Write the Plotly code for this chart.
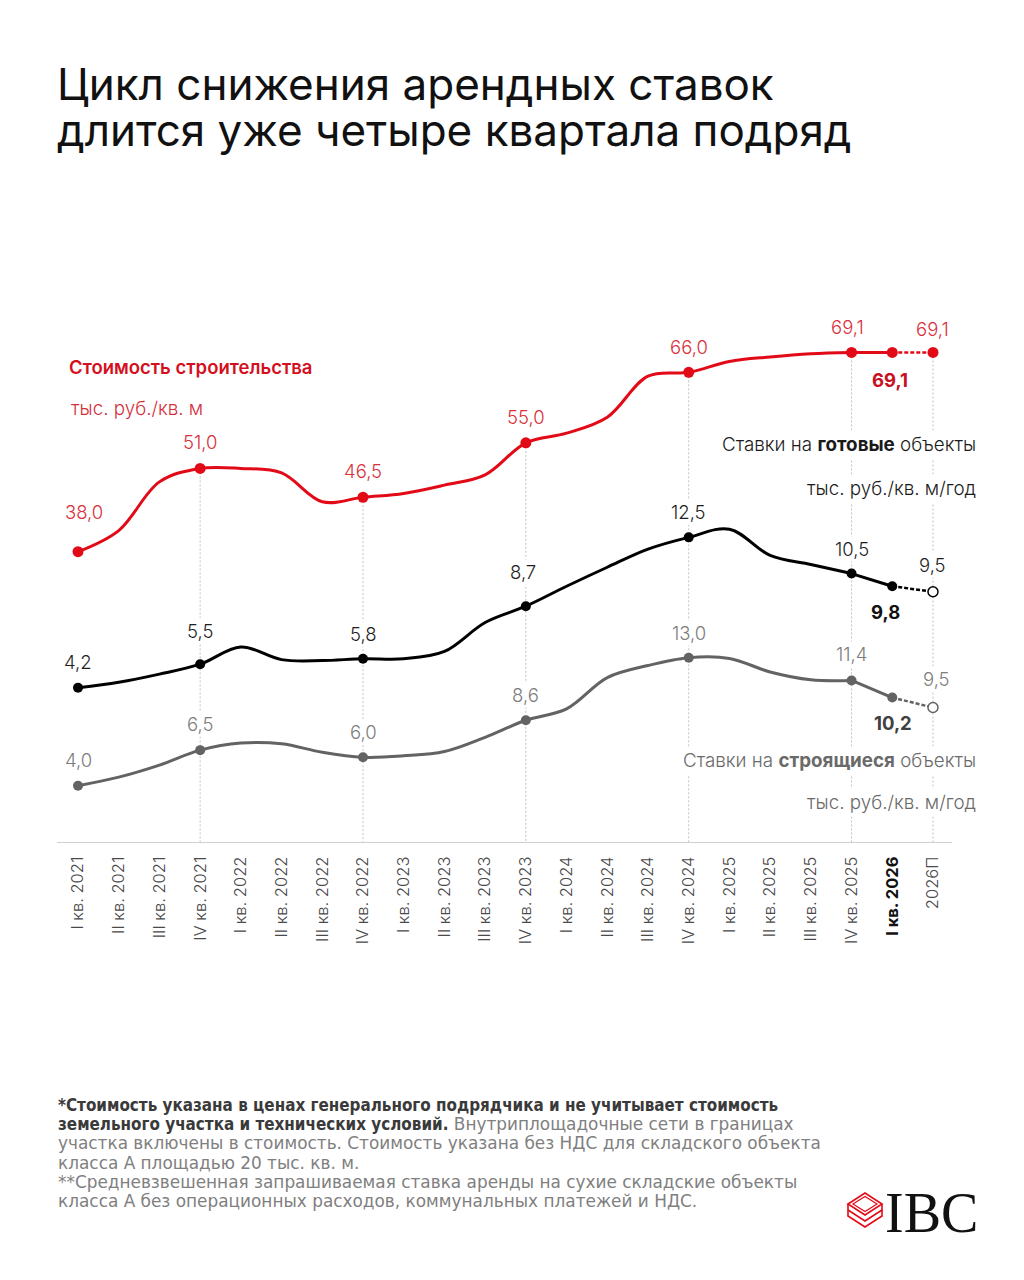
import plotly.graph_objects as go

# ---------------- data ----------------
quarters = ["I кв. 2021", "II кв. 2021", "III кв. 2021", "IV кв. 2021",
            "I кв. 2022", "II кв. 2022", "III кв. 2022", "IV кв. 2022",
            "I кв. 2023", "II кв. 2023", "III кв. 2023", "IV кв. 2023",
            "I кв. 2024", "II кв. 2024", "III кв. 2024", "IV кв. 2024",
            "I кв. 2025", "II кв. 2025", "III кв. 2025", "IV кв. 2025",
            "I кв. 2026", "2026П"]
construction = [38.0, 41.3, 48.9, 51.0, 51.0, 50.3, 45.8, 46.5, 47.1, 48.4, 50.0, 55.0,
                56.5, 59.0, 65.4, 66.0, 67.7, 68.4, 68.9, 69.1, 69.1, 69.1]
ready = [4.2, 4.5, 4.95, 5.5, 6.45, 5.75, 5.7, 5.8, 5.8, 6.2, 7.8, 8.7,
         9.8, 10.85, 11.85, 12.5, 12.95, 11.5, 11.0, 10.5, 9.8, 9.5]
under_constr = [4.0, 4.6, 5.45, 6.5, 7.0, 6.95, 6.35, 6.0, 6.1, 6.4, 7.4, 8.6,
                9.4, 11.6, 12.45, 13.0, 12.95, 12.0, 11.45, 11.4, 10.2, 9.5]
marker_idx = [0, 3, 7, 11, 15, 19, 20]
label_idx = [0, 3, 7, 11, 15, 19, 21]
current_idx = 20
forecast_idx = 21
gridline_idx = [3, 7, 11, 15, 19, 21]

title_lines = ["Цикл снижения арендных ставок", "длится уже четыре квартала подряд"]
footnote_bold = [
    "*Стоимость указана в ценах генерального подрядчика и не учитывает стоимость",
    "земельного участка и технических условий.",
    "", "", "", "",
]
footnote_rest = [
    "",
    " Внутриплощадочные сети в границах",
    "участка включены в стоимость. Стоимость указана без НДС для складского объекта",
    "класса А площадью 20 тыс. кв. м.",
    "**Средневзвешенная запрашиваемая ставка аренды на сухие складские объекты",
    "класса А без операционных расходов, коммунальных платежей и НДС.",
]

# ---------------- style ----------------
W, H = 1024, 1280
FONT = "Inter"
RED = "#e20a17"
BLACK = "#000000"
GRAY = "#636363"


def px(x):
    return x / W


def py(y):
    return 1 - y / H


def fmt(v):
    return f"{v:.1f}".replace(".", ",")


x = list(range(len(quarters)))
red_range = [-7.31, 77.29]

fig = go.Figure()

series = [
    dict(vals=construction, yaxis="y", ref="y", color=RED, lab="#d9303b", bold="#c8101f",
         open_end=False, msize=11,
         offs={0: (6, 40), 3: (0, 26), 7: (0, 26), 11: (0, 26), 15: (0, 25), 19: (-4, 25), 21: (0, 23)},
         cur=(-2, -28)),
    dict(vals=ready, yaxis="y2", ref="y2", color=BLACK, lab="#1e1e1e", bold="#111111",
         open_end=True, msize=10,
         offs={0: (0, 26), 3: (0, 33), 7: (0, 25), 11: (-3, 34), 15: (0, 25), 19: (0, 25), 21: (0, 27)},
         cur=(-7, -26)),
    dict(vals=under_constr, yaxis="y3", ref="y3", color=GRAY, lab="#7d7d7d", bold="#404040",
         open_end=True, msize=10,
         offs={0: (0, 26), 3: (0, 26), 7: (0, 25), 11: (0, 25), 15: (0, 25), 19: (0, 26), 21: (4, 29)},
         cur=(1, -25)),
]

annotations = []
for s in series:
    v = s["vals"]
    c = s["color"]
    fig.add_trace(go.Scatter(x=x[:20], y=v[:20], mode="lines", yaxis=s["yaxis"],
                             line=dict(color=c, width=3, shape="spline", smoothing=1.0),
                             hoverinfo="skip", showlegend=False))
    fig.add_trace(go.Scatter(x=x[19:21], y=v[19:21], mode="lines", yaxis=s["yaxis"],
                             line=dict(color=c, width=3), hoverinfo="skip", showlegend=False))
    fig.add_trace(go.Scatter(x=x[20:22], y=v[20:22], mode="lines", yaxis=s["yaxis"],
                             line=dict(color=c, width=2.5, dash="4px,2px"),
                             hoverinfo="skip", showlegend=False))
    fig.add_trace(go.Scatter(x=[x[i] for i in marker_idx], y=[v[i] for i in marker_idx],
                             mode="markers", yaxis=s["yaxis"],
                             marker=dict(color=c, size=s["msize"], line=dict(width=0)),
                             hoverinfo="skip", showlegend=False))
    if s["open_end"]:
        end_marker = dict(color="white", size=10, line=dict(color=c, width=1.5))
    else:
        end_marker = dict(color=c, size=s["msize"], line=dict(width=0))
    fig.add_trace(go.Scatter(x=[x[forecast_idx]], y=[v[forecast_idx]], mode="markers",
                             yaxis=s["yaxis"], marker=end_marker,
                             hoverinfo="skip", showlegend=False))
    for i in label_idx:
        dx, dy = s["offs"][i]
        annotations.append(dict(x=x[i], y=v[i], xref="x", yref=s["ref"], text=fmt(v[i]),
                                showarrow=False, xshift=dx, yshift=dy, bgcolor="white",
                                borderpad=1,
                                font=dict(family=FONT, size=18.5, color=s["lab"], weight=300)))
    dx, dy = s["cur"]
    annotations.append(dict(x=x[current_idx], y=v[current_idx], xref="x", yref=s["ref"],
                            text="<b>" + fmt(v[current_idx]) + "</b>", showarrow=False,
                            xshift=dx, yshift=dy, bgcolor="white", borderpad=1,
                            font=dict(family=FONT, size=18.5, color=s["bold"])))

# vertical dotted guides
shapes = []
for i in gridline_idx:
    shapes.append(dict(type="line", xref="x", yref="y", x0=x[i], x1=x[i],
                       y0=construction[i], y1=red_range[0], layer="below",
                       line=dict(color="#c2c2c2", width=1, dash="2px,2px")))


def txt(xp, yp, text, size, color, anchor="left", weight=None):
    f = dict(family=FONT, size=size, color=color)
    if weight is not None:
        f["weight"] = weight
    annotations.append(dict(x=px(xp), y=py(yp), xref="paper", yref="paper", text=text,
                            showarrow=False, xanchor=anchor, yanchor="middle",
                            bgcolor="white", borderpad=2, font=f))


txt(66, 367, "Стоимость строительства", 18.5, "#d4101e", weight=600)
txt(68, 408, "тыс. руб./кв. м", 18.8, "#d4303b", weight=300)
txt(979, 444, "Ставки на <b>готовые</b> объекты", 18.8, "#1a1a1a", anchor="right", weight=300)
txt(979, 488, "тыс. руб./кв. м/год", 18.8, "#1a1a1a", anchor="right", weight=300)
txt(979, 760, "Ставки на <b>строящиеся</b> объекты", 18.8, "#6a6a6a", anchor="right", weight=300)
txt(979, 802, "тыс. руб./кв. м/год", 18.8, "#6a6a6a", anchor="right", weight=300)

# title
for k, line in enumerate(title_lines):
    annotations.append(dict(x=px(55), y=py(84 + 46 * k), xref="paper", yref="paper", text=line,
                            showarrow=False, xanchor="left", yanchor="middle",
                            font=dict(family=FONT, size=44, color="#111111")))

# footnotes
for k in range(len(footnote_rest)):
    parts = ""
    if footnote_bold[k]:
        parts += ("<b><span style=\"font-family:'DejaVu Sans Condensed';color:#3a3a3a\">"
                  + footnote_bold[k] + "</span></b>")
    if footnote_rest[k]:
        parts += "<span style='color:#808080'>" + footnote_rest[k] + "</span>"
    annotations.append(dict(x=px(56), y=py(1105 + 19.2 * k), xref="paper", yref="paper",
                            text=parts, showarrow=False, xanchor="left", yanchor="middle",
                            font=dict(family="DejaVu Sans", size=16.9, color="#808080")))

# logo text
annotations.append(dict(x=px(980), y=py(1213), xref="paper", yref="paper", text="IBC",
                        showarrow=False, xanchor="right", yanchor="middle",
                        font=dict(family="Liberation Serif", size=56, color="#111111")))


def path(pts, close=False):
    d = "M " + " L ".join(f"{px(a)},{py(b)}" for a, b in pts)
    return d + (" Z" if close else "")


shapes.append(dict(type="path", xref="paper", yref="paper",
                   path=path([(848, 1204), (865, 1193), (882, 1204), (865, 1215)], close=True),
                   line=dict(color=RED, width=1.6)))
shapes.append(dict(type="path", xref="paper", yref="paper",
                   path=path([(853, 1204), (865, 1196.5), (877, 1204), (865, 1211.5)], close=True),
                   line=dict(color=RED, width=1.2)))
for off in (6, 12):
    shapes.append(dict(type="path", xref="paper", yref="paper",
                       path=path([(848, 1204 + off - 6), (848, 1204 + off), (865, 1215 + off),
                                  (882, 1204 + off), (882, 1204 + off - 6)]),
                       line=dict(color=RED, width=1.6)))

ticktext = [("<b>" + q + "</b>") if i == current_idx else q for i, q in enumerate(quarters)]
ticktext = [("<span style='color:#111111'>" + t + "</span>") if i == current_idx else t
            for i, t in enumerate(ticktext)]

dom = [py(842), py(300)]
fig.update_layout(
    width=W, height=H, margin=dict(l=0, r=0, t=0, b=0),
    paper_bgcolor="white", plot_bgcolor="white",
    showlegend=False,
    xaxis=dict(domain=[px(57), px(952)], range=[-0.516, 21.467], tickmode="array",
               tickvals=x, ticktext=ticktext, tickangle=-90, showline=True,
               linecolor="#d0d0d0", linewidth=1, showgrid=False, zeroline=False, ticks="",
               ticklabelstandoff=7,
               tickfont=dict(family=FONT, size=16.5, color="#4a4a4a", weight=300), anchor="y"),
    yaxis=dict(domain=dom, range=red_range, visible=False, fixedrange=True),
    yaxis2=dict(range=[-4.315, 25.60], overlaying="y", visible=False),
    yaxis3=dict(range=[0.04, 38.16], overlaying="y", visible=False),
    annotations=annotations,
    shapes=shapes,
)

fig.write_html("out.html")
